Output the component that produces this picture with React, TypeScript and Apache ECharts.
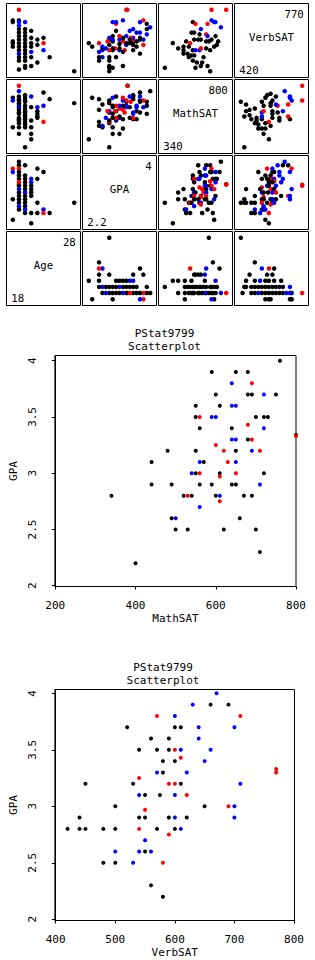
import React, { useEffect, useRef } from 'react';
import * as echarts from 'echarts';

const FONT = 'DejaVu Sans Mono';
const COLORS = ['#000000', '#ff0000', '#0000ff'];
const K = 0, R = 1, B = 2;

// matrix variables (columns left->right; rows are the reverse order top->bottom)
const varNames = ['Age', 'GPA', 'MathSAT', 'VerbSAT'];
const varMin = [18, 2.2, 340, 420];
const varMax = [28, 4, 800, 770];
const varMinLabels = ['18', '2.2', '340', '420'];
const varMaxLabels = ['28', '4', '800', '770'];

// [MathSAT, GPA, colour]
const mathGpa: number[][] = [
  [760, 4.0, K],
  [590, 3.9, K], [650, 3.9, K], [680, 3.9, K],
  [640, 3.8, B], [690, 3.8, R],
  [600, 3.7, K], [680, 3.7, K], [690, 3.7, K], [720, 3.7, B], [750, 3.7, K],
  [550, 3.6, K], [610, 3.6, K], [640, 3.6, B], [650, 3.6, B],
  [550, 3.5, K], [560, 3.5, R], [590, 3.5, B], [600, 3.5, B], [700, 3.5, K], [720, 3.5, K], [730, 3.5, K],
  [560, 3.4, K], [640, 3.4, K], [680, 3.43, R], [720, 3.4, B],
  [800, 3.34, K], [800, 3.33, R],
  [640, 3.3, B], [650, 3.3, B], [680, 3.3, K], [690, 3.3, R],
  [600, 3.25, R],
  [480, 3.2, K], [550, 3.2, K], [620, 3.2, R], [650, 3.2, K], [690, 3.2, B], [710, 3.2, R],
  [440, 3.1, K], [560, 3.1, B], [570, 3.1, K], [630, 3.1, R], [650, 3.1, B],
  [540, 3.0, B], [550, 3.0, K], [560, 3.0, R], [610, 3.0, K], [610, 2.97, R], [650, 3.0, R], [720, 3.0, K],
  [440, 2.9, K], [490, 2.9, K], [560, 2.9, K], [590, 2.9, K], [640, 2.9, K], [650, 2.9, K], [710, 2.9, B],
  [340, 2.8, K], [520, 2.8, K], [530, 2.8, R], [540, 2.8, K], [600, 2.8, K], [610, 2.8, B], [670, 2.8, K], [690, 2.8, K],
  [610, 2.75, R],
  [560, 2.7, B],
  [490, 2.6, K], [500, 2.6, B], [660, 2.6, K],
  [500, 2.5, K], [530, 2.5, K], [620, 2.5, K], [700, 2.5, K],
  [710, 2.3, K],
  [400, 2.2, K],
];

// [VerbSAT, GPA, colour]
const verbGpa: number[][] = [
  [670, 4.0, B],
  [630, 3.9, B], [660, 3.9, K], [690, 3.9, K],
  [570, 3.8, R], [600, 3.8, B], [710, 3.8, R],
  [520, 3.7, K], [600, 3.7, K], [610, 3.7, K], [640, 3.7, B], [700, 3.7, B],
  [560, 3.6, K], [590, 3.6, K], [640, 3.6, B],
  [540, 3.5, K], [570, 3.5, K], [590, 3.5, K], [600, 3.5, R], [610, 3.5, B], [660, 3.5, B],
  [610, 3.43, R],
  [580, 3.4, K], [600, 3.4, K], [650, 3.4, B],
  [770, 3.33, R], [770, 3.3, R],
  [570, 3.3, B], [580, 3.3, K], [620, 3.3, B],
  [540, 3.25, R],
  [450, 3.2, K], [530, 3.2, K], [590, 3.2, R], [600, 3.2, R], [610, 3.2, K], [710, 3.2, B],
  [540, 3.1, B], [550, 3.1, K], [575, 3.1, K], [600, 3.1, B], [620, 3.1, R],
  [500, 3.0, K], [650, 3.0, K], [690, 3.0, R], [700, 3.0, B],
  [550, 2.97, R],
  [440, 2.9, K], [540, 2.9, K], [550, 2.9, K], [590, 2.9, K], [600, 2.9, B], [620, 2.9, K], [700, 2.9, B],
  [420, 2.8, K], [440, 2.8, K], [450, 2.8, K], [480, 2.8, K], [500, 2.8, K], [540, 2.8, R], [570, 2.8, K], [600, 2.8, K], [610, 2.8, B],
  [590, 2.75, R],
  [550, 2.7, B],
  [500, 2.6, B], [540, 2.6, B], [550, 2.6, K], [560, 2.6, B],
  [480, 2.5, K], [500, 2.5, K], [530, 2.5, B], [580, 2.5, R],
  [560, 2.3, K],
  [580, 2.2, K],
];

// [Age, GPA, colour]
const ageGpa: number[][] = [
  [18, 3.8, R], [18, 3.7, B], [18, 2.9, K], [18, 2.3, K],
  [19, 4.0, K], [19, 3.9, K], [19, 3.8, R], [19, 3.7, K], [19, 3.6, K], [19, 3.5, K], [19, 3.4, R], [19, 3.33, R],
  [19, 3.3, K], [19, 3.2, B], [19, 3.1, K], [19, 3.0, K], [19, 2.9, K], [19, 2.8, K], [19, 2.7, B], [19, 2.6, K],
  [20, 3.9, K], [20, 3.6, K], [20, 3.5, K], [20, 3.4, K], [20, 3.3, K], [20, 3.2, K], [20, 3.1, B], [20, 3.0, K],
  [20, 2.9, K], [20, 2.8, K], [20, 2.7, K], [20, 2.6, B], [20, 2.5, K],
  [21, 3.5, B], [21, 3.4, B], [21, 3.3, K], [21, 3.2, K], [21, 3.1, K], [21, 3.0, K], [21, 2.5, K], [21, 2.2, K],
  [22, 3.8, K], [22, 3.5, K], [22, 2.8, K], [22, 2.5, K],
  [23, 3.7, K], [23, 2.6, B], [23, 2.5, R],
  [24, 2.5, K],
  [28, 2.8, K],
];

// [Age, MathSAT, colour]
const ageMath: number[][] = [
  [18, 710, K], [18, 690, B], [18, 490, K],
  [19, 800, R], [19, 760, B], [19, 720, K], [19, 700, K], [19, 690, K], [19, 670, K], [19, 650, K], [19, 640, B],
  [19, 620, K], [19, 600, K], [19, 590, K], [19, 560, K], [19, 550, K], [19, 540, K], [19, 520, K], [19, 490, K], [19, 440, K],
  [20, 730, K], [20, 710, K], [20, 690, K], [20, 680, K], [20, 650, K], [20, 630, K], [20, 610, K], [20, 600, K],
  [20, 580, K], [20, 560, K], [20, 550, K], [20, 530, K], [20, 510, K], [20, 490, K], [20, 340, K],
  [21, 720, B], [21, 640, K], [21, 540, K], [21, 490, K], [21, 440, K], [21, 400, K],
  [22, 640, B], [22, 610, K], [22, 590, K], [22, 570, K], [22, 560, K],
  [23, 750, K], [23, 650, B], [23, 530, R],
  [24, 700, K],
  [28, 670, K],
];

// [Age, VerbSAT, colour]
const ageVerb: number[][] = [
  [18, 710, K], [18, 700, K], [18, 590, K], [18, 580, K], [18, 560, K],
  [19, 770, R], [19, 710, K], [19, 700, B], [19, 680, B], [19, 660, K], [19, 640, K], [19, 620, K], [19, 600, K],
  [19, 580, K], [19, 560, K], [19, 540, K], [19, 520, B], [19, 500, K], [19, 480, K], [19, 430, K],
  [20, 700, B], [20, 660, K], [20, 640, K], [20, 620, K], [20, 600, K], [20, 580, K], [20, 560, K], [20, 540, K],
  [20, 520, K], [20, 500, K], [20, 480, K], [20, 450, K], [20, 440, K],
  [21, 650, K], [21, 610, K], [21, 580, K], [21, 560, K], [21, 530, B], [21, 500, K], [21, 450, K],
  [22, 600, K], [22, 570, K], [22, 470, K],
  [23, 610, K], [23, 580, R], [23, 540, B],
  [24, 500, K],
  [28, 420, K],
];

// [MathSAT, VerbSAT, colour]
const mathVerb: number[][] = [
  [690, 770, R], [800, 770, R],
  [550, 700, K], [570, 690, R], [660, 690, R], [690, 710, B], [710, 700, B], [720, 700, B],
  [610, 660, B], [760, 670, B],
  [540, 640, K], [560, 640, K], [600, 630, K], [650, 630, R], [660, 620, B], [720, 620, K], [690, 600, K],
  [560, 600, K], [590, 600, K], [610, 600, K], [650, 590, K], [670, 590, K], [740, 590, K],
  [500, 590, K], [530, 580, R], [400, 580, K], [440, 550, K],
  [480, 560, K], [480, 540, K], [520, 560, K], [550, 540, K], [570, 540, B], [600, 540, B], [610, 550, R],
  [650, 550, K], [680, 540, K], [710, 560, K], [730, 570, K],
  [480, 520, K], [510, 520, K], [540, 510, K], [560, 510, K],
  [520, 500, K], [550, 480, K], [580, 470, K], [630, 500, K], [620, 470, K],
  [660, 450, K], [610, 450, K], [570, 440, K], [680, 420, K], [340, 440, K],
];

const mathTicks = [200, 400, 600, 800];
const verbTicks = [400, 500, 600, 700, 800];
const gpaTicks = [2, 2.5, 3, 3.5, 4];

const pairs = [
  { xv: 0, yv: 1, data: ageGpa },
  { xv: 0, yv: 2, data: ageMath },
  { xv: 0, yv: 3, data: ageVerb },
  { xv: 2, yv: 1, data: mathGpa },
  { xv: 3, yv: 1, data: verbGpa },
  { xv: 2, yv: 3, data: mathVerb },
];

function panelData(xv: number, yv: number): number[][] {
  for (const p of pairs) {
    if (p.xv === xv && p.yv === yv) return p.data;
    if (p.xv === yv && p.yv === xv) return p.data.map((d) => [d[1], d[0], d[2]]);
  }
  return [];
}

const colorFn = (p: any) => COLORS[p.value[2]];

function buildOption() {
  const PW = 74, PH = 74;
  const colLeft = (c: number) => 6.5 + c * 76;
  const rowTop = (r: number) => 3.5 + r * 76;
  const PADF = 0.1026;
  const lo = (v: number) => varMin[v] - (varMax[v] - varMin[v]) * PADF;
  const hi = (v: number) => varMax[v] + (varMax[v] - varMin[v]) * PADF;

  const grid: any[] = [], xAxis: any[] = [], yAxis: any[] = [], series: any[] = [], graphic: any[] = [];
  const txt = (x: number, y: number, text: string, align: string, size = 11) => ({
    type: 'text', x, y, silent: true,
    style: { text, x: 0, y: 0, align, textAlign: align, verticalAlign: 'middle', textVerticalAlign: 'middle', font: `${size}px "${FONT}"`, fill: '#000' },
  });

  for (let r = 0; r < 4; r++) {
    for (let c = 0; c < 4; c++) {
      const idx = grid.length;
      const xv = c, yv = 3 - r;
      const L = colLeft(c), T = rowTop(r);
      grid.push({ left: L, top: T, width: PW, height: PH, show: true, borderColor: '#000', borderWidth: 1, backgroundColor: 'transparent' });
      xAxis.push({ type: 'value', gridIndex: idx, min: lo(xv), max: hi(xv), show: false });
      yAxis.push({ type: 'value', gridIndex: idx, min: lo(yv), max: hi(yv), show: false });
      if (xv === yv) {
        graphic.push(txt(L + PW / 2, T + 33.5, varNames[xv], 'center', 10.7));
        graphic.push(txt(L + PW - 4.7, T + 10.5, varMaxLabels[xv], 'right', 10.7));
        graphic.push(txt(L + 4.8, T + PH - 7.3, varMinLabels[xv], 'left', 10.7));
      } else {
        series.push({
          type: 'scatter', xAxisIndex: idx, yAxisIndex: idx, data: panelData(xv, yv),
          symbol: 'circle', symbolSize: 4.5, silent: true,
          itemStyle: { color: colorFn, opacity: 1 },
        });
      }
    }
  }

  const axisText = { color: '#000', fontFamily: FONT, fontSize: 11 };
  const big = (left: number, top: number, width: number, height: number, xr: number[], yr: number[], xTicks: number[], xName: string, data: number[][]) => {
    const idx = grid.length;
    grid.push({ left, top, width, height, show: true, borderColor: '#000', borderWidth: 1, backgroundColor: 'transparent' });
    xAxis.push({
      type: 'value', gridIndex: idx, min: xr[0], max: xr[1],
      name: xName, nameLocation: 'middle', nameGap: 26, nameTextStyle: axisText,
      axisLine: { show: true, lineStyle: { color: '#000', width: 1 } },
      axisTick: { show: true, length: 3, customValues: xTicks, lineStyle: { color: '#000' } },
      axisLabel: { show: true, customValues: xTicks, margin: 13, ...axisText },
      splitLine: { show: false },
    });
    yAxis.push({
      type: 'value', gridIndex: idx, min: yr[0], max: yr[1],
      name: 'GPA', nameLocation: 'middle', nameGap: 28, nameTextStyle: axisText,
      axisLine: { show: true, lineStyle: { color: '#000', width: 1 } },
      axisTick: { show: true, length: 3, customValues: gpaTicks, lineStyle: { color: '#000' } },
      axisLabel: { show: true, customValues: gpaTicks, rotate: 90, margin: 17, ...axisText },
      splitLine: { show: false },
    });
    series.push({
      type: 'scatter', xAxisIndex: idx, yAxisIndex: idx, data,
      symbol: 'circle', symbolSize: 4, silent: true,
      itemStyle: { color: colorFn, opacity: 1 },
    });
  };

  big(44.5, 355.5, 251.5, 231, [199, 800], [1.993, 4.046], mathTicks, 'MathSAT', mathGpa);
  big(42.5, 689.5, 252, 231, [398.7, 800.8], [1.989, 4.034], verbTicks, 'VerbSAT', verbGpa);

  graphic.push(txt(164.5, 333.5, 'PStat9799', 'center'));
  graphic.push(txt(164.5, 346.5, 'Scatterplot', 'center'));
  graphic.push(txt(163, 667, 'PStat9799', 'center'));
  graphic.push(txt(163, 680.5, 'Scatterplot', 'center'));

  return {
    animation: false,
    backgroundColor: '#ffffff',
    textStyle: { fontFamily: FONT },
    grid, xAxis, yAxis, series, graphic,
  };
}

export default function App() {
  const ref = useRef<HTMLDivElement>(null);
  useEffect(() => {
    if (!ref.current) return;
    const chart = echarts.init(ref.current, undefined, { renderer: 'svg' });
    chart.setOption(buildOption() as any);
    return () => chart.dispose();
  }, []);
  return <div ref={ref} style={{ position: 'absolute', left: 0, top: 0, width: 315, height: 960 }} />;
}
